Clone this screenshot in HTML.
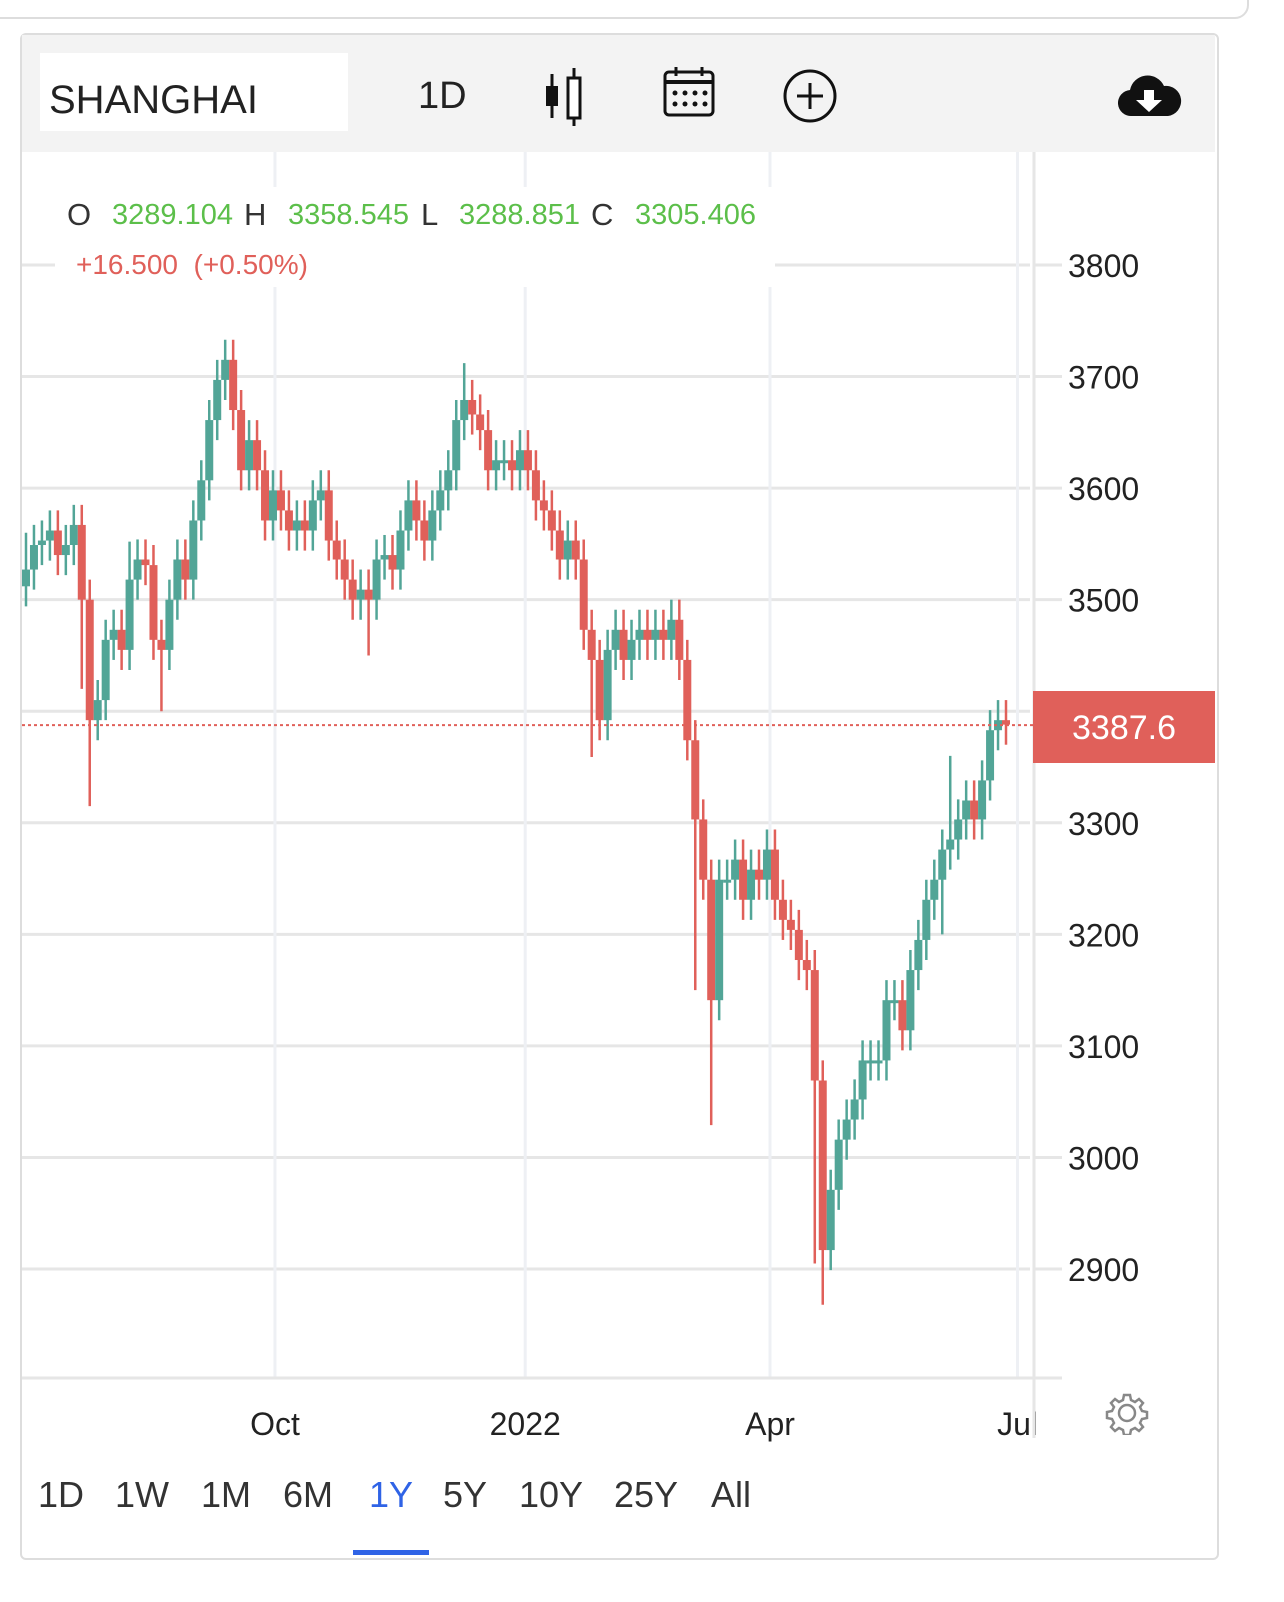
<!DOCTYPE html>
<html><head><meta charset="utf-8">
<style>
body{margin:0;width:1284px;height:1602px;background:#fff;font-family:"Liberation Sans",sans-serif;overflow:hidden;position:relative}
.abs{position:absolute}
.lg{position:absolute;top:0;font-size:29px;line-height:34px}
.k{color:#333;font-size:31px}
.v{color:#5cbf4a}
</style></head>
<body>
<div class="abs" style="left:-20px;top:-40px;width:1265px;height:55px;border:2px solid #ddd;border-radius:14px"></div>
<div class="abs" style="left:20px;top:33px;width:1195px;height:1523px;border:2px solid #ddd;border-radius:6px"></div>
<div class="abs" style="left:22px;top:35px;width:1193px;height:117px;background:#f3f3f3"></div>
<div class="abs" style="left:40px;top:53px;width:308px;height:78px;background:#fff;font-size:40px;color:#222;line-height:94px;padding-left:9px;box-sizing:border-box">SHANGHAI</div>
<div class="abs" style="left:418px;top:75px;font-size:38px;color:#222">1D</div>
<svg class="abs" style="left:540px;top:66px" width="50" height="62"><line x1="12" y1="8" x2="12" y2="52" stroke="#111" stroke-width="3"/><rect x="6" y="20" width="12" height="20" fill="#111"/><line x1="34" y1="2" x2="34" y2="60" stroke="#111" stroke-width="3"/><rect x="28" y="12" width="12" height="40" fill="#fff" stroke="#111" stroke-width="3"/></svg>
<svg class="abs" style="left:662px;top:66px" width="54" height="52"><rect x="3" y="6" width="48" height="43" rx="4" fill="none" stroke="#111" stroke-width="3"/><line x1="3" y1="16" x2="51" y2="16" stroke="#111" stroke-width="4"/><line x1="14" y1="1" x2="14" y2="10" stroke="#111" stroke-width="3"/><line x1="40" y1="1" x2="40" y2="10" stroke="#111" stroke-width="3"/><g fill="#111"><circle cx="13" cy="27" r="2.5"/><circle cx="23" cy="27" r="2.5"/><circle cx="33" cy="27" r="2.5"/><circle cx="43" cy="27" r="2.5"/><circle cx="13" cy="38" r="2.5"/><circle cx="23" cy="38" r="2.5"/><circle cx="33" cy="38" r="2.5"/><circle cx="43" cy="38" r="2.5"/></g></svg>
<svg class="abs" style="left:782px;top:68px" width="56" height="56"><circle cx="28" cy="28" r="25" fill="none" stroke="#111" stroke-width="3"/><line x1="28" y1="15" x2="28" y2="41" stroke="#111" stroke-width="3"/><line x1="15" y1="28" x2="41" y2="28" stroke="#111" stroke-width="3"/></svg>
<svg class="abs" style="left:1118px;top:72px" width="64" height="46"><path d="M14 44 A13 13 0 0 1 12 18 A18 18 0 0 1 46 14 A14 14 0 0 1 50 44 Z" fill="#111"/><path d="M26 18 h10 v10 h8 l-13 12 l-13 -12 h8 z" fill="#fff"/></svg>

<svg class="abs" id="chart" style="left:0;top:0" width="1284" height="1602"></svg>

<div class="abs" style="left:55px;top:187px;width:720px;height:100px;background:#fff;white-space:nowrap">
<div style="position:absolute;left:0;top:11px;width:720px">
<span class="lg k" style="left:12px">O</span><span class="lg v" style="left:57px">3289.104</span>
<span class="lg k" style="left:189px">H</span><span class="lg v" style="left:233px">3358.545</span>
<span class="lg k" style="left:366px">L</span><span class="lg v" style="left:404px">3288.851</span>
<span class="lg k" style="left:536px">C</span><span class="lg v" style="left:580px">3305.406</span>
</div>
<div style="position:absolute;left:21px;top:62px;color:#e0605a;font-size:28px">+16.500&nbsp;&nbsp;(+0.50%)</div>
</div>
<div class="abs" style="left:1033px;top:691px;width:182px;height:72px;background:#e0605a;color:#fff;font-size:34px;line-height:74px;text-align:center">3387.6</div>
<svg class="abs" style="left:1105px;top:1391px" width="44" height="44"><g transform="translate(22,22)" fill="none" stroke="#888" stroke-width="2.5"><circle r="8"/><path d="M-3,-18 h6 l1,5 l4,2 l4,-3 l4,4 l-3,4 l2,4 l5,1 v6 l-5,1 l-2,4 l3,4 l-4,4 l-4,-3 l-4,2 l-1,5 h-6 l-1,-5 l-4,-2 l-4,3 l-4,-4 l3,-4 l-2,-4 l-5,-1 v-6 l5,-1 l2,-4 l-3,-4 l4,-4 l4,3 l4,-2 z"/></g></svg>
<div class="abs" style="left:0;top:1474px;font-size:36px;color:#333">
<span class="abs" style="left:38px">1D</span>
<span class="abs" style="left:115px">1W</span>
<span class="abs" style="left:201px">1M</span>
<span class="abs" style="left:283px">6M</span>
<span class="abs" style="left:369px;color:#2f63e6">1Y</span>
<span class="abs" style="left:443px">5Y</span>
<span class="abs" style="left:519px">10Y</span>
<span class="abs" style="left:614px">25Y</span>
<span class="abs" style="left:711px">All</span>
</div>
<div class="abs" style="left:353px;top:1550px;width:76px;height:5px;background:#2f63e6"></div>

<script>
const closes=[3527,3549,3553,3562,3540,3549,3567,3500,3392,3410,3464,3473,3455,3518,3536,3531,3464,3455,3500,3536,3518,3571,3607,3661,3697,3715,3670,3616,3643,3616,3571,3598,3580,3562,3571,3562,3589,3598,3553,3536,3518,3500,3509,3500,3536,3540,3527,3562,3589,3571,3553,3580,3598,3616,3661,3679,3666,3652,3616,3625,3625,3616,3634,3616,3589,3580,3562,3536,3553,3536,3473,3446,3392,3455,3473,3446,3464,3473,3464,3473,3464,3482,3446,3374,3303,3249,3141,3249,3249,3267,3231,3258,3249,3276,3231,3213,3204,3177,3168,3069,2917,2971,3016,3034,3052,3087,3087,3087,3141,3141,3114,3168,3195,3231,3249,3276,3285,3303,3320,3303,3338,3383,3392,3388];
const firstOpen=3512;
const highIdx=[25,55,116,0,13];
const highVal=[3725,3712,3360,3560,3552];
const lowIdx=[8,17,43,71,84,86,100,99,115,7];
const lowVal=[3315,3400,3450,3359,3150,3029,2868,2905,3200,3420];
const yTicks=[3800,3700,3600,3500,3400,3300,3200,3100,3000,2900];
const yTickLabels=["3800","3700","3600","3500","","3300","3200","3100","3000","2900"];
const xTickLabels=["Oct","2022","Apr","Jul"];
const xTickDays=[93,185,275,366];
const lastPrice=3387.6;

const NS="http://www.w3.org/2000/svg";
const svg=document.getElementById('chart');
function y(v){return 265+(3800-v)*1.1156;}
function xDay(d){return 22+d*2.72;}
const n=closes.length;
function xi(i){return 26+i*(1006-26)/(n-1);}
function mk(tag,attrs){const e=document.createElementNS(NS,tag);for(const k in attrs)e.setAttribute(k,attrs[k]);svg.appendChild(e);return e;}

yTicks.forEach((t,i)=>{
  const g=mk('line',{x1:22,x2:1030,y1:y(t),y2:y(t),stroke:'#e6e6e6','stroke-width':3});
  
  
  const tk=mk('line',{x1:1035,x2:1062,y1:y(t),y2:y(t),stroke:'#e6e6e6','stroke-width':3});
  
  
  if(yTickLabels[i]){
    const tx=mk('text',{x:1068,y:y(t)+12,'font-size':32,fill:'#222','font-family':'Liberation Sans, sans-serif'});
    tx.textContent=yTickLabels[i];
    
    
  }
});
xTickDays.forEach((d,i)=>{
  const gx=xDay(d);
  const g=mk('line',{x1:gx,x2:gx,y1:152,y2:1378,stroke:'#eef0f4','stroke-width':3});
  
  
  const t=mk('text',{x:gx,y:1435,'font-size':32,fill:'#222','text-anchor':'middle','font-family':'Liberation Sans, sans-serif'});
  t.textContent=xTickLabels[i];
  
  
});
const ax=mk('line',{x1:22,x2:1062,y1:1378,y2:1378,stroke:'#e6e6e6','stroke-width':3});


const ay=mk('line',{x1:1034,x2:1034,y1:152,y2:1438,stroke:'#e6e6e6','stroke-width':3});



closes.forEach((c,i)=>{
  const o=i===0?firstOpen:closes[i-1];
  const up=c>=o;
  const col=up?'#52a597':'#e0605a';
  let hi=Math.max(o,c)+18, lo=Math.min(o,c)-18;
  const hk=highIdx.indexOf(i); if(hk>=0) hi=Math.max(hi,highVal[hk]);
  const lk=lowIdx.indexOf(i); if(lk>=0) lo=Math.min(lo,lowVal[lk]);
  const x=xi(i);
  const w=mk('line',{x1:x,x2:x,y1:y(hi),y2:y(lo),stroke:col,'stroke-width':2.5});
  
  
  const top=y(Math.max(o,c)),bot=y(Math.min(o,c));
  const r=mk('rect',{x:x-4,y:top,width:8,height:Math.max(3,bot-top),fill:col});
  
  
});
const pl=mk('line',{x1:22,x2:1033,y1:y(lastPrice),y2:y(lastPrice),stroke:'#e0605a','stroke-width':2,'stroke-dasharray':'3,3'});


</script>
</body></html>
